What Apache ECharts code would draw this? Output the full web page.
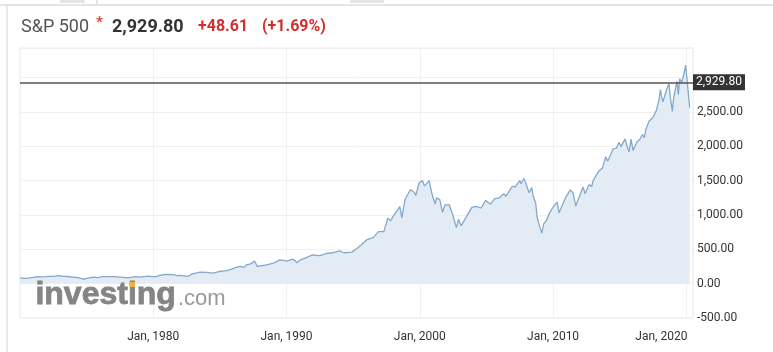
<!DOCTYPE html>
<html>
<head>
<meta charset="utf-8">
<title>S&amp;P 500</title>
<style>
  html, body { margin: 0; padding: 0; background: #fff; }
  #chart { width: 773px; height: 352px; }
</style>
</head>
<body>
<div id="chart"></div>
<script src="https://cdn.jsdelivr.net/npm/echarts@6/dist/echarts.min.js"></script>
<script>
// S&P 500 close (year as decimal)
var years = [
  1970.0, 1970.4, 1970.75, 1971.0, 1971.3, 1971.6, 1971.9, 1972.2, 1972.5, 1972.9,
  1973.0, 1973.3, 1973.6, 1973.9, 1974.2, 1974.5, 1974.75, 1975.0, 1975.5, 1975.8,
  1976.2, 1976.6, 1977.0, 1977.5, 1978.0, 1978.2, 1978.7, 1978.9, 1979.3, 1979.7,
  1979.9, 1980.0, 1980.2, 1980.5, 1980.9, 1981.5, 1981.75, 1982.0, 1982.6, 1982.9,
  1983.5, 1984.0, 1984.5, 1985.0, 1985.5, 1985.9, 1986.2, 1986.5, 1986.8, 1987.0,
  1987.3, 1987.6, 1987.8, 1988.0, 1988.5, 1989.0, 1989.5, 1989.8, 1990.0, 1990.5,
  1990.8, 1991.0, 1991.5, 1991.9, 1992.5, 1993.0, 1993.5, 1994.0, 1994.3, 1994.9,
  1995.3, 1995.6, 1996.0, 1996.5, 1996.9, 1997.3, 1997.6, 1997.8, 1998.0, 1998.5,
  1998.65, 1998.9, 1999.3, 1999.6, 1999.7, 1999.95, 2000.2, 2000.35, 2000.7, 2000.9,
  2001.15, 2001.25, 2001.5, 2001.7, 2001.9, 2002.2, 2002.5, 2002.6, 2002.75, 2002.9,
  2003.1, 2003.5, 2003.9, 2004.2, 2004.6, 2004.95, 2005.3, 2005.6, 2005.95, 2006.3,
  2006.45, 2006.95, 2007.15, 2007.5, 2007.6, 2007.8, 2007.95, 2008.2, 2008.4, 2008.5,
  2008.7, 2008.8, 2008.9, 2009.0, 2009.15, 2009.3, 2009.5, 2009.75, 2010.0, 2010.3,
  2010.45, 2010.6, 2010.95, 2011.3, 2011.5, 2011.7, 2011.95, 2012.25, 2012.4, 2012.7,
  2012.9, 2013.0, 2013.4, 2013.45, 2013.7, 2013.95, 2014.1, 2014.5, 2014.75, 2014.95,
  2015.1, 2015.4, 2015.6, 2015.7, 2015.85, 2016.0, 2016.1, 2016.3, 2016.5, 2016.7,
  2016.85, 2016.95, 2017.2, 2017.5, 2017.75, 2017.95, 2018.05, 2018.15, 2018.25, 2018.5,
  2018.7, 2018.8, 2018.95, 2019.05, 2019.3, 2019.4, 2019.5, 2019.65, 2019.8, 2019.95,
  2020.0, 2020.25
];
var closes = [
  85, 76, 84, 92, 103, 99, 102, 107, 107, 118,
  116, 107, 104, 96, 93, 80, 64, 77, 95, 89,
  102, 103, 102, 96, 89, 89, 103, 94, 102, 109,
  103, 114, 102, 122, 136, 131, 116, 120, 107, 139,
  168, 164, 153, 180, 191, 211, 236, 252, 237, 274,
  288, 329, 252, 257, 272, 297, 346, 340, 329, 356,
  304, 343, 380, 417, 408, 439, 450, 478, 450, 459,
  514, 562, 636, 670, 757, 757, 954, 914, 980, 1120,
  957, 1229, 1370, 1328, 1282, 1469, 1499, 1420, 1500, 1315,
  1160, 1249, 1224, 1040, 1148, 1147, 990, 911, 815, 936,
  841, 975, 1111, 1126, 1101, 1212, 1156, 1234, 1248, 1310,
  1270, 1418, 1406, 1503, 1455, 1530, 1468, 1323, 1400, 1280,
  1166, 969, 896, 903, 735, 873, 919, 1036, 1115, 1187,
  1031, 1049, 1258, 1364, 1320, 1131, 1258, 1408, 1310, 1441,
  1416, 1498, 1631, 1606, 1682, 1848, 1783, 1960, 1972, 2059,
  1995, 2107, 1972, 1920, 2104, 1940, 1932, 2065, 2099, 2168,
  2126, 2239, 2363, 2423, 2519, 2674, 2824, 2714, 2648, 2816,
  2914, 2712, 2507, 2704, 2946, 2752, 2980, 2926, 3037, 3180,
  3200, 2560
];
var lastPrice = 2929.80;
var yTicks = [-500, 0, 500, 1000, 1500, 2000, 2500];
var decadeLabels = [1980, 1990, 2000, 2010, 2020];

function fmt(v) {
  var s = Math.abs(v).toFixed(2).split('.');
  s[0] = s[0].replace(/\B(?=(\d{3})+(?!\d))/g, ',');
  return (v < 0 ? '-' : '') + s.join('.');
}

var chart = echarts.init(document.getElementById('chart'), null, { renderer: 'canvas' });
var font = 'Roboto, "Noto Sans", sans-serif';
var logoFont = '"Liberation Sans", Arial, sans-serif';

var option = {
  animation: false,
  textStyle: { fontFamily: font },
  grid: {
    left: 20, right: 80, top: 48, bottom: 34,
    show: true, borderColor: '#e9e9e9', borderWidth: 1
  },
  xAxis: {
    type: 'value',
    min: 1970, max: 2020.5, interval: 10,
    axisLine: { show: false },
    axisTick: { show: false },
    splitLine: { show: true, lineStyle: { color: '#f1f1f1' } },
    axisLabel: {
      margin: 13, fontSize: 12, color: '#333', fontFamily: font,
      formatter: function (v) {
        if (decadeLabels.indexOf(v) < 0) return '';
        if (v === 2020) return '{r|Jan, ' + v + '}';
        return 'Jan, ' + v;
      },
      rich: { r: { fontSize: 12, color: '#333', fontFamily: font, padding: [0, 50, 0, 0] } }
    }
  },
  yAxis: {
    type: 'value', position: 'right',
    min: -500, max: 3430, interval: 500,
    axisLine: { show: false },
    axisTick: { show: false },
    splitLine: { show: true, lineStyle: { color: '#f1f1f1' } },
    axisLabel: {
      margin: 4, fontSize: 12, color: '#333', fontFamily: font,
      formatter: function (v) { return yTicks.indexOf(v) < 0 ? '' : fmt(v); }
    }
  },
  series: [{
    type: 'line',
    data: years.map(function (y, i) { return [y, closes[i]]; }),
    showSymbol: false,
    lineStyle: { color: '#84a9ca', width: 1.3 },
    areaStyle: { color: '#e3ecf5', opacity: 1 },
    markLine: {
      silent: true, symbol: 'none', animation: false,
      lineStyle: { color: '#555', width: 1.6, type: 'solid' },
      label: {
        position: 'end', distance: 0,
        formatter: fmt(lastPrice),
        backgroundColor: '#333', color: '#fff', fontSize: 12, fontFamily: font,
        padding: [2, 3, 2, 3]
      },
      data: [{ yAxis: lastPrice }]
    }
  }],
  graphic: [
    { type: 'line', shape: { x1: 0, y1: 5, x2: 773, y2: 5 }, style: { stroke: '#dcdcdc', lineWidth: 1.5 } },
    { type: 'rect', shape: { x: 60, y: 0, width: 25, height: 3, r: 1 }, style: { fill: '#e4e4e4' } },
    { type: 'rect', shape: { x: 96, y: 0, width: 2, height: 4 }, style: { fill: '#e4e4e4' } },
    { type: 'rect', shape: { x: 350, y: 0, width: 34, height: 3, r: 1 }, style: { fill: '#e4e4e4' } },
    { type: 'line', shape: { x1: 7, y1: 5, x2: 7, y2: 352 }, style: { stroke: '#e2e2e2', lineWidth: 1.5 } },
    { type: 'text', left: 21, top: 18, style: { text: 'S&P 500', font: '18px ' + font, fill: '#555' } },
    { type: 'text', left: 96, top: 16, style: { text: '*', font: 'bold 15px ' + font, fill: '#e0453a' } },
    { type: 'text', left: 112, top: 18, style: { text: fmt(lastPrice), font: 'bold 18px ' + font, fill: '#333' } },
    { type: 'text', left: 198, top: 19, style: { text: '+48.61', font: 'bold 16px ' + font, fill: '#d0312d' } },
    { type: 'text', left: 262, top: 19, style: { text: '(+1.69%)', font: 'bold 16px ' + font, fill: '#d0312d' } },
    { type: 'text', z: 100, left: 35, top: 279, style: { text: 'investing', font: 'bold 32px ' + logoFont, fill: '#858585', stroke: '#858585', lineWidth: 0.8 } },
    { type: 'text', z: 100, left: 178, top: 288, style: { text: '.com', font: '22px ' + logoFont, fill: '#999' } },
    { type: 'rect', z: 101, shape: { x: 129, y: 282, width: 6, height: 5, r: 1 }, style: { fill: '#f2b23c' } }
  ]
};
chart.setOption(option);
</script>
</body>
</html>
